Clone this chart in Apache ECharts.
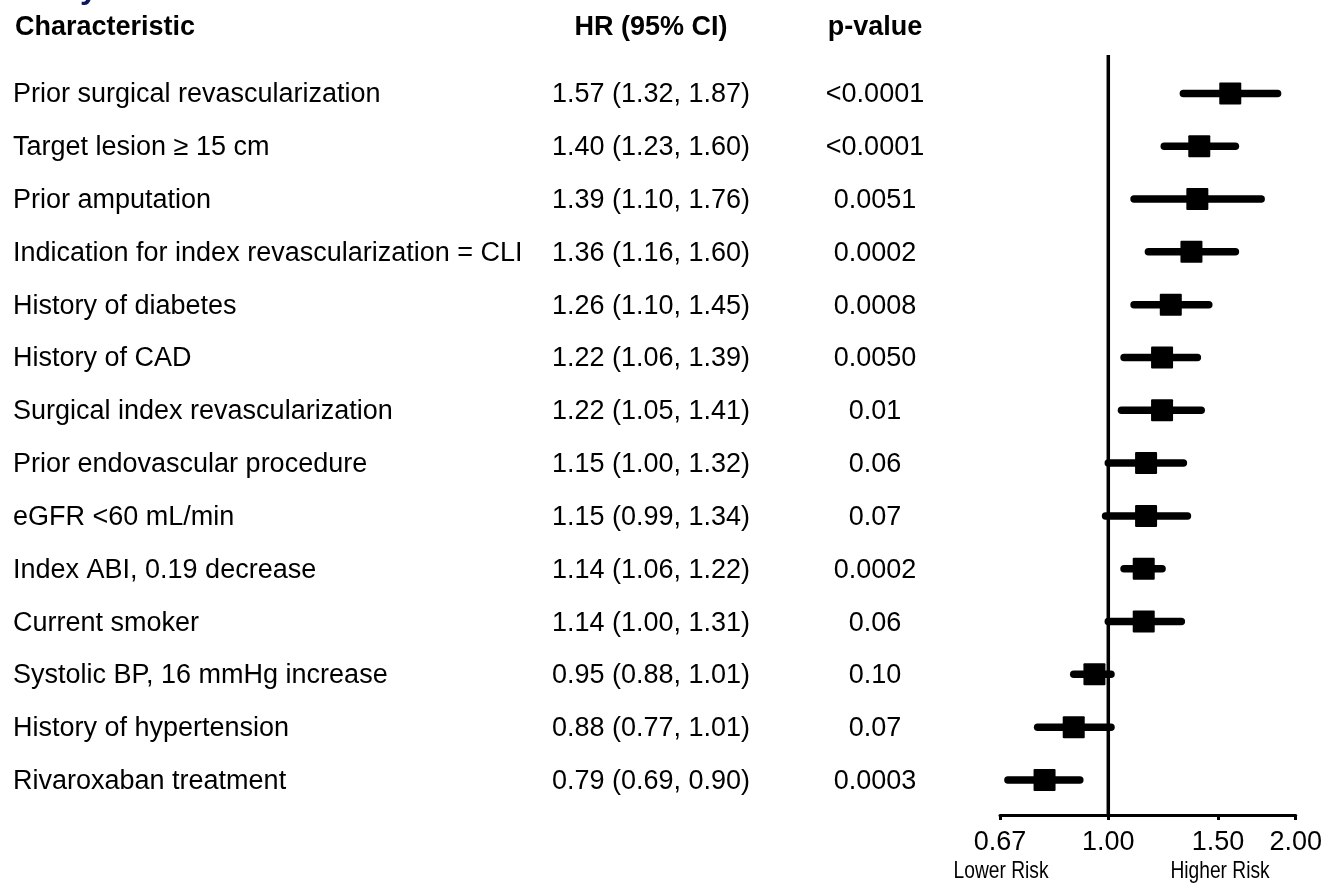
<!DOCTYPE html>
<html><head><meta charset="utf-8">
<script src="https://cdn.jsdelivr.net/npm/echarts@6/dist/echarts.min.js"></script>
<style>html,body{margin:0;padding:0;background:#fff}#c{width:1325px;height:883px}</style>
</head><body><div id="c"></div>
<script>
const characteristics = [
  'Prior surgical revascularization',
  'Target lesion \u2265 15 cm',
  'Prior amputation',
  'Indication for index revascularization = CLI',
  'History of diabetes',
  'History of CAD',
  'Surgical index revascularization',
  'Prior endovascular procedure',
  'eGFR <60 mL/min',
  'Index ABI, 0.19 decrease',
  'Current smoker',
  'Systolic BP, 16 mmHg increase',
  'History of hypertension',
  'Rivaroxaban treatment'
];
const hr     = [1.57, 1.40, 1.39, 1.36, 1.26, 1.22, 1.22, 1.15, 1.15, 1.14, 1.14, 0.95, 0.88, 0.79];
const ciLow  = [1.32, 1.23, 1.10, 1.16, 1.10, 1.06, 1.05, 1.00, 0.99, 1.06, 1.00, 0.88, 0.77, 0.69];
const ciHigh = [1.87, 1.60, 1.76, 1.60, 1.45, 1.39, 1.41, 1.32, 1.34, 1.22, 1.31, 1.01, 1.01, 0.90];
const pValues = ['<0.0001', '<0.0001', '0.0051', '0.0002', '0.0008', '0.0050', '0.01', '0.06', '0.07', '0.0002', '0.06', '0.10', '0.07', '0.0003'];
const xTicks = [0.67, 1.00, 1.50, 2.00];
const refValue = 1.00;

const FONT = '"Liberation Sans", Arial, Helvetica, sans-serif';
const hrLabels = hr.map((v, i) => v.toFixed(2) + ' (' + ciLow[i].toFixed(2) + ', ' + ciHigh[i].toFixed(2) + ')');
const ln = Math.log;
const yMin = -0.727, yMax = characteristics.length - 1 + 0.663;

const chart = echarts.init(document.getElementById('c'), null, {renderer: 'canvas'});

const textAxis = (data, margin, align) => ({
  gridIndex: 1, type: 'category', inverse: true, data: data, position: 'left',
  axisLine: {show: false}, axisTick: {show: false}, splitLine: {show: false},
  axisLabel: {interval: 0, margin: margin, align: align, fontSize: 27, color: '#000', fontFamily: FONT}
});

chart.setOption({
  animation: false,
  backgroundColor: '#fff',
  grid: [
    {left: 1000, width: 297, top: 55, bottom: 68},
    {left: 1000, width: 297, top: 68.5, height: 14 * 52.82}
  ],
  xAxis: [
    {
      gridIndex: 0, type: 'value', min: ln(xTicks[0]), max: ln(xTicks[xTicks.length - 1]),
      axisLine: {onZero: false, lineStyle: {color: '#000', width: 3}},
      axisTick: {customValues: xTicks.map(ln), length: 5, lineStyle: {color: '#000', width: 3}},
      axisLabel: {customValues: xTicks.map(ln), formatter: v => Math.exp(v).toFixed(2),
        fontSize: 27, color: '#000', fontFamily: FONT, margin: 14},
      splitLine: {show: false}
    },
    {gridIndex: 1, type: 'value', show: false}
  ],
  yAxis: [
    {gridIndex: 0, type: 'value', inverse: true, min: yMin, max: yMax, show: false},
    textAxis(characteristics, 987, 'left'),
    textAxis(hrLabels, 349, 'center'),
    textAxis(pValues, 125, 'center')
  ],
  graphic: [
    {type: 'text', style: {x: 15, y: 28, text: 'Characteristic', font: 'bold 27px ' + FONT, fill: '#000', textAlign: 'left', textVerticalAlign: 'middle'}},
    {type: 'text', style: {x: 651, y: 28, text: 'HR (95% CI)', font: 'bold 27px ' + FONT, fill: '#000', textAlign: 'center', textVerticalAlign: 'middle'}},
    {type: 'text', style: {x: 875, y: 28, text: 'p-value', font: 'bold 27px ' + FONT, fill: '#000', textAlign: 'center', textVerticalAlign: 'middle'}},
    {type: 'text', x: 1001, y: 871, scaleX: 0.8, style: {x: 0, y: 0, text: 'Lower Risk', font: '24px ' + FONT, fill: '#000', textAlign: 'center', textVerticalAlign: 'middle'}},
    {type: 'text', x: 1220, y: 871, scaleX: 0.8, style: {x: 0, y: 0, text: 'Higher Risk', font: '24px ' + FONT, fill: '#000', textAlign: 'center', textVerticalAlign: 'middle'}},
    {type: 'text', style: {x: 80, y: -11, text: 'y', font: 'bold 32px ' + FONT, fill: '#0d1b5e', textAlign: 'left', textVerticalAlign: 'middle'}}
  ],
  series: [
    {
      type: 'line', xAxisIndex: 0, yAxisIndex: 0, symbol: 'none', silent: true,
      data: [[ln(refValue), yMin], [ln(refValue), yMax]],
      lineStyle: {color: '#000', width: 3.5}
    },
    {
      type: 'custom', xAxisIndex: 0, yAxisIndex: 0,
      data: hr.map((v, i) => [ln(v), i, ln(ciLow[i]), ln(ciHigh[i])]),
      encode: {x: [0, 2, 3], y: 1},
      renderItem: function (params, api) {
        const y = api.value(1);
        const c = api.coord([api.value(0), y]);
        const lo = api.coord([api.value(2), y]);
        const hi = api.coord([api.value(3), y]);
        const s = 22;
        return {type: 'group', children: [
          {type: 'line', shape: {x1: lo[0], y1: lo[1], x2: hi[0], y2: hi[1]},
           style: {stroke: '#000', lineWidth: 7.5, lineCap: 'round'}},
          {type: 'rect', shape: {x: c[0] - s / 2, y: c[1] - s / 2, width: s, height: s, r: 1},
           style: {fill: '#000'}}
        ]};
      }
    }
  ]
});
</script>
</body></html>
